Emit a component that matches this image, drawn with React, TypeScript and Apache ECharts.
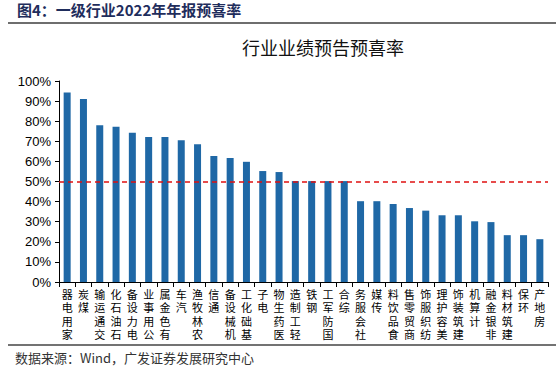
import React, { useEffect, useRef } from "react";
import * as echarts from "echarts";

const categories = [
  "家用电器", "煤炭", "交通运输", "石油石化", "电力设备", "公用事业", "有色金属", "汽车",
  "农林牧渔", "通信", "机械设备", "基础化工", "电子", "医药生物", "轻工制造", "钢铁",
  "国防军工", "综合", "社会服务", "传媒", "食品饮料", "商贸零售", "纺织服饰", "美容护理",
  "建筑装饰", "计算机", "非银金融", "建筑材料", "环保", "房地产",
];
const values = [
  0.943, 0.91, 0.78, 0.772, 0.743, 0.722, 0.722, 0.705,
  0.685, 0.627, 0.617, 0.598, 0.552, 0.547, 0.502, 0.502,
  0.502, 0.502, 0.402, 0.402, 0.388, 0.368, 0.355, 0.332,
  0.332, 0.302, 0.298, 0.233, 0.233, 0.213,
];
const threshold = 0.5;
const headerText = "图4：一级行业2022年年报预喜率";
const chartTitle = "行业业绩预告预喜率";
const sourceText = "数据来源：Wind，广发证券发展研究中心";

export default function App() {
  const ref = useRef<HTMLDivElement>(null);
  useEffect(() => {
    if (!ref.current) return;
    const chart = echarts.init(ref.current, null, { renderer: "svg" });
    chart.setOption({
      animation: false,
      backgroundColor: "#ffffff",
      grid: { left: 59, right: 11, top: 81, bottom: 87 },
      xAxis: {
        type: "category",
        data: categories,
        axisLine: { show: true, lineStyle: { color: "#000", width: 1 } },
        axisTick: { show: true, alignWithLabel: false, length: 5, lineStyle: { color: "#000" } },
        axisLabel: {
          interval: 0,
          margin: 6,
          color: "#000",
          fontSize: 11,
          lineHeight: 13.5,
          fontFamily: "'Liberation Sans', 'Noto Sans CJK SC'",
          formatter: (v: string) => v.split("").reverse().join("\n"),
        },
      },
      yAxis: {
        type: "value",
        min: 0,
        max: 1,
        interval: 0.1,
        splitLine: { show: false },
        axisLine: { show: true, lineStyle: { color: "#000", width: 1 } },
        axisTick: { show: true, length: 4, lineStyle: { color: "#000" } },
        axisLabel: {
          color: "#000",
          fontSize: 13,
          fontFamily: "Liberation Sans",
          margin: 8,
          formatter: (v: number) => Math.round(v * 100) + "%",
        },
      },
      series: [
        {
          type: "bar",
          data: values,
          barWidth: 7,
          itemStyle: { color: "#1f68a6" },
          markLine: {
            silent: true,
            symbol: "none",
            label: { show: false },
            lineStyle: { color: "#e01010", type: [5, 4], width: 1.5 },
            data: [{ yAxis: threshold }],
          },
        },
      ],
      graphic: [
        {
          type: "text",
          left: 17,
          top: 2,
          style: {
            text: headerText,
            font: "bold 15px 'Noto Sans CJK SC'",
            fill: "#1f2d5c",
          },
        },
        {
          type: "line",
          shape: { x1: 8, y1: 23, x2: 556, y2: 23 },
          style: { stroke: "#6e6e6e", lineWidth: 2 },
        },
        {
          type: "text",
          x: 323,
          y: 47,
          style: {
            text: chartTitle,
            font: "18px 'Noto Sans CJK SC'",
            fill: "#111",
            align: "center",
            verticalAlign: "middle",
          },
        },
        {
          type: "line",
          shape: { x1: 8, y1: 345, x2: 556, y2: 345 },
          style: { stroke: "#444", lineWidth: 1.5 },
        },
        {
          type: "text",
          x: 15,
          y: 357,
          style: {
            text: sourceText,
            font: "13px 'Noto Sans CJK SC'",
            fill: "#333",
            verticalAlign: "middle",
          },
        },
      ],
    });
    return () => chart.dispose();
  }, []);
  return (
    <div
      ref={ref}
      style={{ position: "fixed", left: 0, top: 0, width: 559, height: 369 }}
    />
  );
}
